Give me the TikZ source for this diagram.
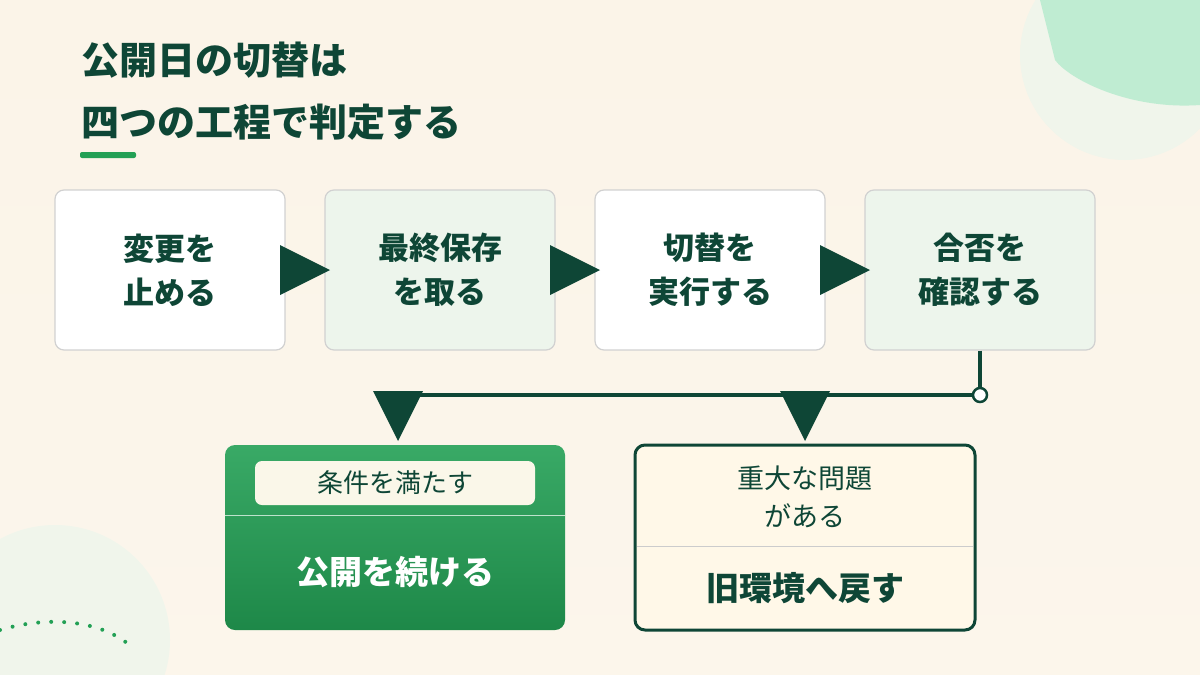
\documentclass[tikz,border=0pt]{standalone}
\usepackage{fontspec}
\setmainfont{Noto Sans CJK JP}
\usetikzlibrary{positioning, calc}
\definecolor{ink}{HTML}{0E4636}
\definecolor{paper}{HTML}{FBF4E8}
\definecolor{mint}{HTML}{EDF5EC}
\definecolor{leaf}{HTML}{23A055}
\definecolor{cream}{HTML}{FFF8E8}
\begin{document}
\begin{tikzpicture}[x=1pt,y=-1pt,
  stepbox/.style={draw=black!18, line width=1.2pt, rounded corners=9pt, minimum width=230pt,
    minimum height=160pt, align=center, font=\fontsize{31}{44}\selectfont\bfseries, text=ink},
  tri/.style={fill=ink, draw=none}]
  \useasboundingbox (0,0) rectangle (1200,675);
  \clip (0,0) rectangle (1200,675);
  % background
  \fill[top color=paper, bottom color=paper!85!white] (0,0) rectangle (1200,675);
  \fill[mint!80!paper] (1125,55) circle (105);
  \fill[green!40!teal!25] (1040,0) -- (1200,0) -- (1200,105) .. controls (1130,110) and (1070,80) .. (1055,60) -- cycle;
  \fill[mint!80!paper] (55,640) circle (115);
  \draw[leaf, line width=4pt, dash pattern=on 0pt off 13pt, line cap=round] (0,630) .. controls (50,615) and (105,620) .. (135,650);
  % title
  \node[anchor=west, text=ink, font=\fontsize{38}{40}\selectfont\bfseries] (t1) at (78,60) {公開日の切替は};
  \node[anchor=west, text=ink, font=\fontsize{38}{40}\selectfont\bfseries] (t2) at (78,122) {四つの工程で判定する};
  \fill[leaf, rounded corners=2pt] (80,152) rectangle (136,158);
  % steps
  \node[stepbox, fill=white] (s1) at (170,270) {変更を\\止める};
  \node[stepbox, fill=mint]  (s2) at (440,270) {最終保存\\を取る};
  \node[stepbox, fill=white] (s3) at (710,270) {切替を\\実行する};
  \node[stepbox, fill=mint]  (s4) at (980,270) {合否を\\確認する};
  \foreach \a/\b in {s1/s2, s2/s3, s3/s4}
    \path[tri] ($(\a.east)!0.5!(\b.west)$) ++(-25,-25) -- ++(50,25) -- ++(-50,25) -- cycle;
  % branch
  \coordinate (hub) at (980,395);
  \coordinate (lt) at (398,395);
  \coordinate (rt) at (805,395);
  \draw[ink, line width=4pt] (s4.south) -- (hub) -- (lt);
  \fill[white] (hub) circle (7); \draw[ink, line width=2.5pt] (hub) circle (7);
  \foreach \c in {lt, rt}
    \path[tri] (\c) ++(-25,-4) -- ++(50,0) -- ++(-25,50) -- cycle;
  % outcomes
  \shade[top color=leaf!90!white, bottom color=leaf!85!black, rounded corners=10pt] (225,445) rectangle (565,630);
  \node[fill=cream!70!mint, rounded corners=7pt, minimum width=280pt, minimum height=44pt,
    text=ink, font=\fontsize{26}{30}\selectfont] (okc) at (395,483) {条件を満たす};
  \draw[white!70!leaf, line width=1pt] (225,515) -- (565,515);
  \node[text=white, font=\fontsize{33}{36}\selectfont\bfseries] (ok) at (395,572) {公開を続ける};
  \draw[ink, line width=3pt, fill=cream, rounded corners=10pt] (635,445) rectangle (975,630);
  \node[align=center, text=ink, font=\fontsize{27}{38}\selectfont] (ngc) at (805,497) {重大な問題\\がある};
  \draw[black!20, line width=1pt] (637,546) -- (973,546);
  \node[text=ink, font=\fontsize{33}{36}\selectfont\bfseries] (ng) at (805,588) {旧環境へ戻す};
\end{tikzpicture}
\end{document}
